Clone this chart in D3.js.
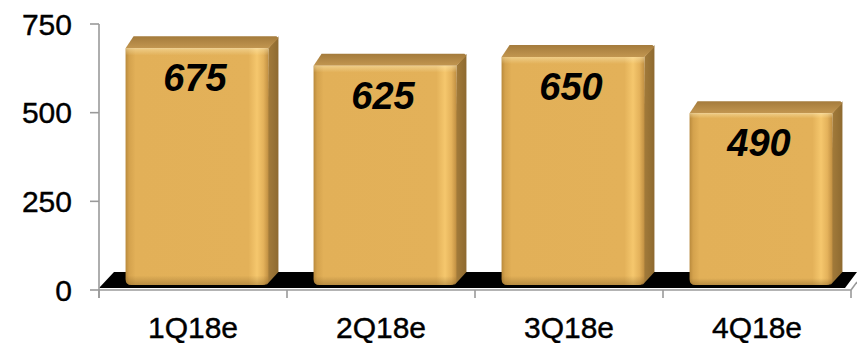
<!DOCTYPE html>
<html>
<head>
<meta charset="utf-8">
<script src="https://cdn.jsdelivr.net/npm/d3@7/dist/d3.min.js"></script>
<style>
  html, body { margin: 0; padding: 0; background: #fff; }
  svg { display: block; }
</style>
</head>
<body>
<svg id="chart" width="857" height="343"></svg>
<script>
// Quarterly estimates
const categories = ["1Q18e", "2Q18e", "3Q18e", "4Q18e"];
const values = [675, 625, 650, 490];
const yTicks = [0, 250, 500, 750];

const W = 857, H = 343;
const svg = d3.select("#chart");

// Axis (back wall) scale and the projected scale for the bar front faces
const yAxis = d3.scaleLinear().domain([0, 750]).range([290, 24]);
const yFront = d3.scaleLinear().domain([0, 750]).range([285, 22]);
const x = d3.scaleBand().domain(categories).range([99, 851]).padding(0);

const depthX = 10, depthY = 12;
const barW = x.bandwidth() * 0.76;
const barX = c => x(c) + (x.bandwidth() - barW) / 2 + 4;

const defs = svg.append("defs");

// Front face: horizontal shading with bright strip near the right edge
const gFront = defs.append("linearGradient").attr("id", "front").attr("x1", 0).attr("x2", 1).attr("y1", 0).attr("y2", 0);
[[0, "#b98a3c"], [0.025, "#d4a24d"], [0.07, "#e2b058"], [0.86, "#e3b159"], [0.92, "#f5c76d"], [0.965, "#e4b25b"], [1, "#c08f42"]]
  .forEach(([o, c]) => gFront.append("stop").attr("offset", o).attr("stop-color", c));

// Front face: vertical highlight at the top and shade at the bottom
const gFrontV = defs.append("linearGradient").attr("id", "frontV").attr("x1", 0).attr("x2", 0).attr("y1", 0).attr("y2", 1);
[[0, "#fff0c0", 0.45], [0.03, "#fff0c0", 0.0], [0.96, "#6b4a18", 0.0], [1, "#6b4a18", 0.35]]
  .forEach(([o, c, a]) => gFrontV.append("stop").attr("offset", o).attr("stop-color", c).attr("stop-opacity", a));

const gTop = defs.append("linearGradient").attr("id", "topf").attr("x1", 0).attr("x2", 0).attr("y1", 0).attr("y2", 1);
[[0, "#a47b3c"], [1, "#c29650"]].forEach(([o, c]) => gTop.append("stop").attr("offset", o).attr("stop-color", c));

const gSide = defs.append("linearGradient").attr("id", "side").attr("x1", 0).attr("x2", 1).attr("y1", 0).attr("y2", 0);
[[0, "#a67e3c"], [1, "#8e6a30"]].forEach(([o, c]) => gSide.append("stop").attr("offset", o).attr("stop-color", c));

// Floor
const floorFront = yAxis(0) - 2;
const floorBack = floorFront - 16;
svg.append("path")
  .attr("d", `M${x.range()[0]},${floorFront} L${x.range()[1] - 6},${floorFront} L${W},${floorBack} L${x.range()[0] + 15},${floorBack} Z`)
  .attr("fill", "#000");

// Axis lines
const axisColor = "#9a9a9a";
const axes = svg.append("g").attr("stroke", axisColor).attr("stroke-width", 1.6).attr("fill", "none");
axes.append("line").attr("x1", 99).attr("x2", 99).attr("y1", yAxis(750)).attr("y2", yAxis(0) + 8);
yTicks.forEach(t => axes.append("line").attr("x1", 90).attr("x2", 99).attr("y1", yAxis(t)).attr("y2", yAxis(t)));
axes.append("line").attr("x1", 99).attr("x2", 851).attr("y1", yAxis(0)).attr("y2", yAxis(0));
axes.append("line").attr("x1", 851).attr("x2", 857).attr("y1", yAxis(0)).attr("y2", yAxis(0) - 8);
categories.concat([null]).forEach((c, i) => {
  const xx = c ? x(c) : x.range()[1];
  axes.append("line").attr("x1", xx).attr("x2", xx).attr("y1", yAxis(0)).attr("y2", yAxis(0) + 8);
});

// Bars
const bars = svg.append("g").selectAll("g").data(categories).join("g");
bars.each(function (c, i) {
  const g = d3.select(this);
  const x0 = barX(c), x1 = x0 + barW;
  const yT = yFront(values[i]), yB = yFront(0);
  const r = 6;
  // side face
  g.append("path")
    .attr("d", `M${x1},${yT} L${x1 + depthX},${yT - depthY} L${x1 + depthX},${yB - depthY - 1} L${x1 - 2},${yB} Z`)
    .attr("fill", "url(#side)");
  // top face
  g.append("path")
    .attr("d", `M${x0},${yT} L${x0 + depthX - 2},${yT - depthY} Q${x0 + depthX},${yT - depthY} ${x0 + depthX + 2},${yT - depthY} L${x1 + depthX - 2},${yT - depthY} L${x1 + depthX},${yT - depthY + 2} L${x1},${yT} Z`)
    .attr("fill", "url(#topf)");
  // front face with rounded lower corners
  const front = `M${x0},${yT} L${x1},${yT} L${x1},${yB - r} Q${x1},${yB} ${x1 - r},${yB} L${x0 + r},${yB} Q${x0},${yB} ${x0},${yB - r} Z`;
  g.append("path").attr("d", front).attr("fill", "url(#front)");
  g.append("path").attr("d", front).attr("fill", "url(#frontV)");
  // value label
  g.append("text")
    .attr("x", x0 + barW / 2 - 2)
    .attr("y", yT + 43)
    .attr("text-anchor", "middle")
    .attr("font-family", "'Liberation Sans', Arial, sans-serif")
    .attr("font-weight", "bold")
    .attr("font-style", "italic")
    .attr("font-size", 38)
    .attr("fill", "#000")
    .text(values[i]);
});

// Tick labels
svg.append("g").selectAll("text").data(yTicks).join("text")
  .attr("x", 72)
  .attr("y", d => yAxis(d))
  .attr("dy", "0.36em")
  .attr("text-anchor", "end")
  .attr("font-family", "'Liberation Sans', Arial, sans-serif")
  .attr("font-size", 30)
  .attr("fill", "#000")
  .attr("stroke", "#000")
  .attr("stroke-width", 0.4)
  .text(d => d);

svg.append("g").selectAll("text").data(categories).join("text")
  .attr("x", d => x(d) + x.bandwidth() / 2)
  .attr("y", 338)
  .attr("text-anchor", "middle")
  .attr("font-family", "'Liberation Sans', Arial, sans-serif")
  .attr("font-size", 30)
  .attr("fill", "#000")
  .attr("stroke", "#000")
  .attr("stroke-width", 0.4)
  .text(d => d);
</script>
</body>
</html>
